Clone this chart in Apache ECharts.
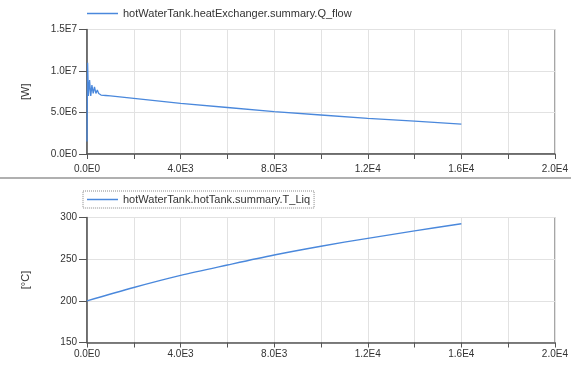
<!DOCTYPE html>
<html>
<head>
<meta charset="utf-8">
<script src="https://cdn.jsdelivr.net/npm/echarts@6/dist/echarts.min.js"></script>
<style>
  html, body { margin: 0; padding: 0; background: #fff; }
  #main { width: 571px; height: 365px; }
</style>
</head>
<body>
<div id="main"></div>
<script>
// 数据
var seriesNames = ['hotWaterTank.heatExchanger.summary.Q_flow', 'hotWaterTank.hotTank.summary.T_Liq'];
var qTime = [0, 25, 60, 110, 160, 210, 265, 320, 380, 440, 500, 600, 800, 1000, 2000, 4000, 6000, 8000, 10000, 12000, 14000, 16000];
var qFlow = [1.5e6, 1.1e7, 7.0e6, 8.9e6, 7.0e6, 8.3e6, 7.3e6, 8.1e6, 7.3e6, 7.7e6, 7.3e6, 7.1e6, 7.05e6, 7.0e6, 6.7e6, 6.1e6, 5.6e6, 5.1e6, 4.7e6, 4.3e6, 3.95e6, 3.6e6];
var tTime = [0, 2000, 4000, 6000, 8000, 10000, 12000, 14000, 16000];
var tLiq = [200, 216, 230.5, 243, 255, 265.5, 275, 284, 292.5];

function zip(a, b) {
    return a.map(function (v, i) { return [v, b[i]]; });
}
function expFmt(v) {
    return v.toExponential(1).replace('e+', 'E').replace('e-', 'E-');
}

var myChart = echarts.init(document.getElementById('main'));
var font = 'Liberation Sans, Arial, sans-serif';
var lineColor = '#4a88dc';

function xAxisOf(gridIndex, margin) {
    return {
        type: 'value', gridIndex: gridIndex, min: 0, max: 20000, interval: 2000,
        axisLine: { show: true, onZero: false, lineStyle: { color: '#555', width: 1.5 } },
        axisTick: { show: true, length: 5, lineStyle: { color: '#555' } },
        axisLabel: {
            margin: margin, color: '#333', fontFamily: font, fontSize: 10,
            formatter: function (v) { return v % 4000 === 0 ? expFmt(v) : ''; }
        },
        splitLine: { show: true, lineStyle: { color: '#e2e2e2' } }
    };
}
function yAxisOf(gridIndex, min, max, interval, name, fmt) {
    return {
        type: 'value', gridIndex: gridIndex, min: min, max: max, interval: interval,
        name: name, nameLocation: 'middle', nameGap: 56,
        nameTextStyle: { color: '#333', fontFamily: font, fontSize: 11 },
        axisLine: { show: true, lineStyle: { color: '#555', width: 1.5 } },
        axisTick: { show: true, length: 8, lineStyle: { color: '#555' } },
        axisLabel: { margin: 10, color: '#333', fontFamily: font, fontSize: 10, formatter: fmt },
        splitLine: { show: true, lineStyle: { color: '#e2e2e2' } }
    };
}

var option = {
    animation: false,
    backgroundColor: '#fff',
    textStyle: { fontFamily: font },
    grid: [
        { left: 87, right: 12, top: 29.5, height: 124.5, show: true, borderColor: '#666', borderWidth: 1 },
        { left: 87, right: 12, top: 217.5, height: 125, show: true, borderColor: '#666', borderWidth: 1 }
    ],
    legend: [
        {
            data: [seriesNames[0]], left: 83, top: 5, padding: [3, 4],
            icon: 'rect', itemWidth: 31, itemHeight: 1.5, itemGap: 5,
            textStyle: { color: '#333', fontSize: 11, fontFamily: font }
        },
        {
            data: [seriesNames[1]], left: 83, top: 191, padding: [3, 4],
            icon: 'rect', itemWidth: 31, itemHeight: 1.5,
            borderColor: '#888', borderWidth: 1, borderType: 'dotted',
            textStyle: { color: '#333', fontSize: 11, fontFamily: font }
        }
    ],
    xAxis: [xAxisOf(0, 10), xAxisOf(1, 7)],
    yAxis: [
        yAxisOf(0, 0, 1.5e7, 5e6, '[W]', expFmt),
        yAxisOf(1, 150, 300, 50, '[°C]', function (v) { return v; })
    ],
    graphic: [{
        type: 'rect', shape: { x: 0, y: 177, width: 571, height: 2 },
        style: { fill: '#b0b0b0' }, silent: true
    }],
    series: [
        {
            name: seriesNames[0], type: 'line', xAxisIndex: 0, yAxisIndex: 0, z: 10,
            data: zip(qTime, qFlow), symbol: 'none',
            lineStyle: { color: lineColor, width: 1.3 }, itemStyle: { color: lineColor }
        },
        {
            name: seriesNames[1], type: 'line', xAxisIndex: 1, yAxisIndex: 1, z: 10,
            data: zip(tTime, tLiq), symbol: 'none', smooth: 0.3,
            lineStyle: { color: lineColor, width: 1.3 }, itemStyle: { color: lineColor }
        }
    ]
};

myChart.setOption(option);
</script>
</body>
</html>
